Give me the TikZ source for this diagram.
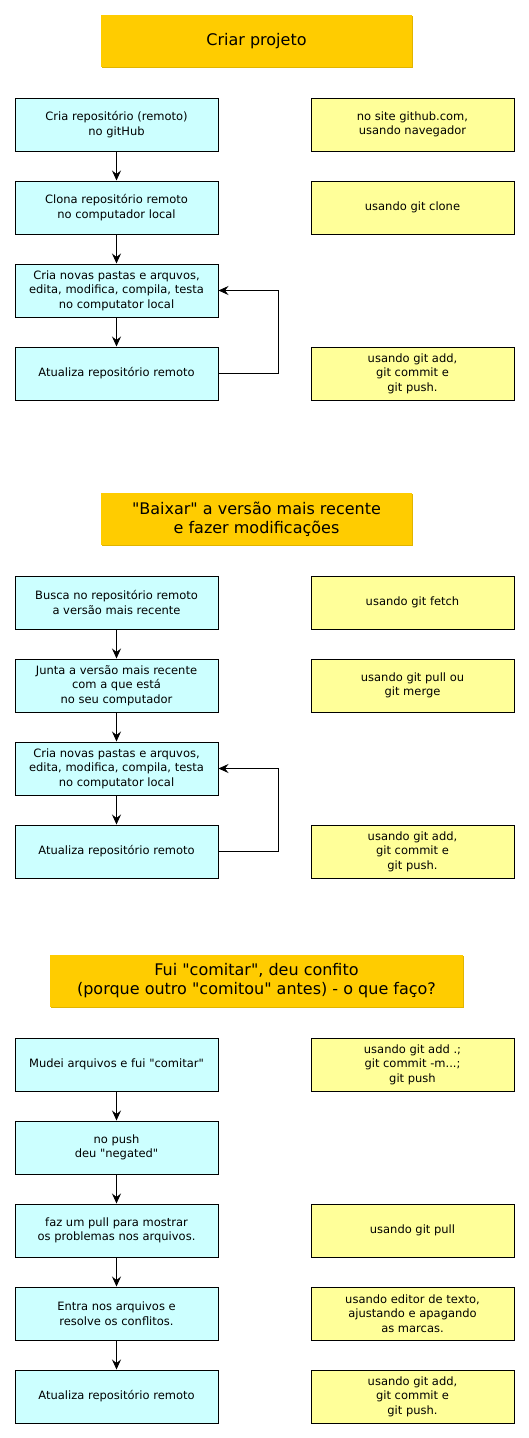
\documentclass[tikz,border=0pt]{standalone}
\usepackage{fontspec}
\setmainfont{DejaVu Sans}[Ligatures=TeXOff]
\usetikzlibrary{arrows.meta}
\definecolor{hdr}{HTML}{FFCC00}
\definecolor{hdrsh}{HTML}{E0B400}
\definecolor{lfill}{HTML}{CCFFFF}
\definecolor{rfill}{HTML}{FFFF99}
\tikzset{
  box/.style={draw=black, line width=1pt, minimum width=203pt, minimum height=53pt, inner sep=0pt, align=center, font=\fontsize{11.5}{14.5}\selectfont},
  lbox/.style={box, fill=lfill},
  rbox/.style={box, fill=rfill},
  hbox/.style={fill=hdr, minimum height=52pt, inner sep=0pt, align=center, font=\fontsize{16}{19}\selectfont},
  arr/.style={line width=1pt, -{Stealth[length=10pt,width=9pt,inset=3.5pt]}}
}
\begin{document}
\begin{tikzpicture}[x=1pt,y=-1pt]
\useasboundingbox (0,0) rectangle (529,1438);
\fill[white] (0,0) rectangle (529,1438);
% ---------- Section 1 ----------
\fill[hdrsh] (102,16) rectangle (413,68);
\node[hbox, minimum width=311pt] (h1) at (256.5,41) {Criar projeto};
\node[lbox] (a1) at (116.5,124.5) {Cria repositório (remoto)\\no gitHub};
\node[rbox] (b1) at (412.5,124.5) {no site github.com,\\ usando navegador};
\node[lbox] (a2) at (116.5,207.5) {Clona repositório remoto\\no computador local};
\node[rbox] (b2) at (412.5,207.5) {usando git clone};
\node[lbox] (a3) at (116.5,290.5) {Cria novas pastas e arquvos,\\edita, modifica, compila, testa\\no computator local};
\node[lbox] (a4) at (116.5,373.5) {Atualiza repositório remoto};
\node[rbox] (b4) at (412.5,373.5) {usando git add,\\git commit e\\git push.};
\draw[arr] (a1) -- (a2);
\draw[arr] (a2) -- (a3);
\draw[arr] (a3) -- (a4);
\draw[arr] (a4.east) -- ++(60,0) |- (a3.east);
% ---------- Section 2 ----------
\fill[hdrsh] (102,494) rectangle (413,546);
\node[hbox, minimum width=311pt] (h2) at (256.5,519) {"Baixar" a versão mais recente\\e fazer modificações};
\node[lbox] (c1) at (116.5,602.5) {Busca no repositório remoto\\a versão mais recente};
\node[rbox] (d1) at (412.5,602.5) {usando git fetch};
\node[lbox] (c2) at (116.5,685.5) {Junta a versão mais recente\\com a que está\\no seu computador};
\node[rbox] (d2) at (412.5,685.5) {usando git pull ou\\git merge};
\node[lbox] (c3) at (116.5,768.5) {Cria novas pastas e arquvos,\\edita, modifica, compila, testa\\no computator local};
\node[lbox] (c4) at (116.5,851.5) {Atualiza repositório remoto};
\node[rbox] (d4) at (412.5,851.5) {usando git add,\\git commit e\\git push.};
\draw[arr] (c1) -- (c2);
\draw[arr] (c2) -- (c3);
\draw[arr] (c3) -- (c4);
\draw[arr] (c4.east) -- ++(60,0) |- (c3.east);
% ---------- Section 3 ----------
\fill[hdrsh] (51,956) rectangle (464,1008);
\node[hbox, minimum width=413pt] (h3) at (256.5,981) {Fui "comitar", deu confito\\(porque outro "comitou" antes) - o que faço?};
\node[lbox] (e1) at (116.5,1064.5) {Mudei arquivos e fui "comitar"};
\node[rbox] (f1) at (412.5,1064.5) {usando git add .;\\git commit -m...;\\git push};
\node[lbox] (e2) at (116.5,1147.5) {no push\\deu "negated"};
\node[lbox] (e3) at (116.5,1230.5) {faz um pull para mostrar\\os problemas nos arquivos.};
\node[rbox] (f3) at (412.5,1230.5) {usando git pull};
\node[lbox] (e4) at (116.5,1313.5) {Entra nos arquivos e\\resolve os conflitos.};
\node[rbox] (f4) at (412.5,1313.5) {usando editor de texto,\\ajustando e apagando\\as marcas.};
\node[lbox] (e5) at (116.5,1396.5) {Atualiza repositório remoto};
\node[rbox] (f5) at (412.5,1396.5) {usando git add,\\git commit e\\git push.};
\draw[arr] (e1) -- (e2);
\draw[arr] (e2) -- (e3);
\draw[arr] (e3) -- (e4);
\draw[arr] (e4) -- (e5);
\end{tikzpicture}
\end{document}
